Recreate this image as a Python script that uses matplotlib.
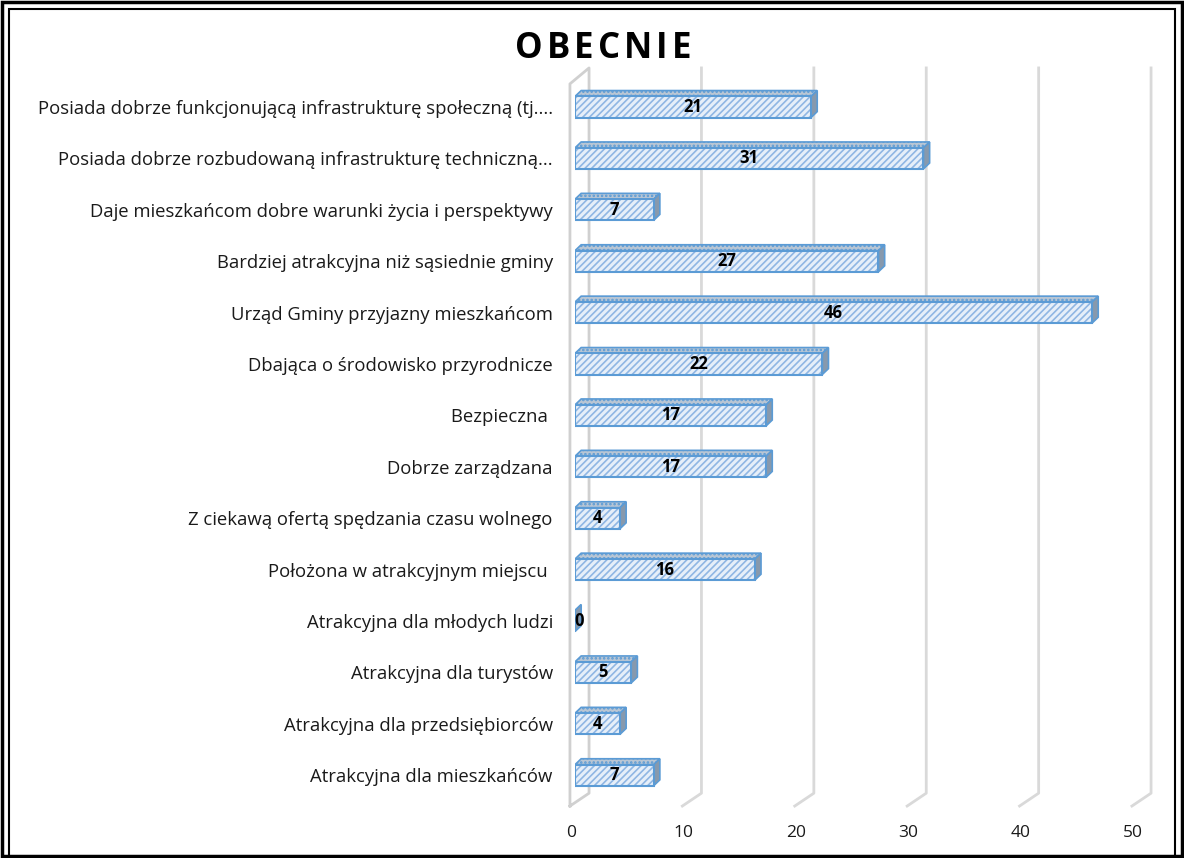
import matplotlib
matplotlib.use("Agg")
import matplotlib.pyplot as plt
from matplotlib.patches import Polygon, Rectangle
import matplotlib.transforms as mtransforms

categories = [
    "Posiada dobrze funkcjonującą infrastrukturę społeczną (tj....",
    "Posiada dobrze rozbudowaną infrastrukturę techniczną...",
    "Daje mieszkańcom dobre warunki życia i perspektywy",
    "Bardziej atrakcyjna niż sąsiednie gminy",
    "Urząd Gminy przyjazny mieszkańcom",
    "Dbająca o środowisko przyrodnicze",
    "Bezpieczna ",
    "Dobrze zarządzana",
    "Z ciekawą ofertą spędzania czasu wolnego",
    "Położona w atrakcyjnym miejscu ",
    "Atrakcyjna dla młodych ludzi",
    "Atrakcyjna dla turystów",
    "Atrakcyjna dla przedsiębiorców",
    "Atrakcyjna dla mieszkańców",
]
values = [21, 31, 7, 27, 46, 22, 17, 17, 4, 16, 0, 5, 4, 7]
xticks = [0, 10, 20, 30, 40, 50]
title = "OBECNIE"

plt.rcParams['font.family'] = ['Open Sans', 'DejaVu Sans']
plt.rcParams['hatch.linewidth'] = 1.2

fig = plt.figure(figsize=(11.84, 8.58), dpi=100)
W, H = 1184, 858
n = len(categories)
y_top, y_bot = -0.8, 13.6
step = 51.4
ax_top_px = 107 + y_top * step
ax_bot_px = 107 + y_bot * step
ax = fig.add_axes([575 / W, 1 - ax_bot_px / H, 562 / W, (ax_bot_px - ax_top_px) / H])

ypos = list(range(n))
bh = 0.41
dx = 0.55   # bar depth in x data units
dy = 0.115  # bar depth in y units
gback = 1.25   # back-wall offset
gfront = -0.45  # front floor offset
back_top, back_bot, front_bot = -0.76, 13.35, 13.6

grid_c = "#d9d9d9"
for t in xticks[1:]:
    ax.plot([t + gback, t + gback, t + gfront], [back_top, back_bot, front_bot],
            color=grid_c, lw=2, zorder=0, clip_on=False)
# zero wall
ax.plot([gfront, gfront, gback, gback, gfront], [front_bot, -0.45, back_top, back_bot, front_bot],
        color="#d0d0d0", lw=2, zorder=0, clip_on=False)

blue_edge = "#5b9bd5"
for y, v in zip(ypos, values):
    top = y - bh / 2
    bot = y + bh / 2
    ax.add_patch(Polygon([(0, top), (v, top), (v + dx, top - dy), (dx, top - dy)],
                         closed=True, facecolor="#b9c6d4", edgecolor=blue_edge,
                         lw=1.2, hatch="....", zorder=2))
    ax.add_patch(Polygon([(v, top), (v + dx, top - dy), (v + dx, bot - dy), (v, bot)],
                         closed=True, facecolor="#8799ad", edgecolor=blue_edge,
                         lw=1.2, zorder=2))

ax.barh(ypos, values, height=bh, color="#e6eff9", edgecolor="#8fb6e3",
        hatch="/////", lw=0, zorder=3)
ax.barh(ypos, values, height=bh, color="none", edgecolor=blue_edge, lw=1.5, zorder=4)

for y, v in zip(ypos, values):
    ax.text(v / 2 if v > 0 else 0.35, y, str(v), ha="center", va="center",
            fontsize=12, fontweight="bold", color="black", zorder=5)

ax.set_xlim(0, 50)
ax.set_ylim(y_bot, y_top)
ax.set_yticks(ypos)
ax.set_yticklabels(categories, fontsize=13.3, color="#1a1a1a")
ax.set_xticks(xticks)
ax.set_xticklabels([str(t) for t in xticks], fontsize=12.5, color="#1a1a1a")
ax.tick_params(axis="both", length=0)
ax.tick_params(axis="y", pad=16)
ax.tick_params(axis="x", pad=14)
off = mtransforms.ScaledTranslation(-4 / 100, 0, fig.dpi_scale_trans)
for lab in ax.get_xticklabels():
    lab.set_transform(lab.get_transform() + off)
for s in ax.spines.values():
    s.set_visible(False)

# letter-spaced title
renderer = fig.canvas.get_renderer()
letters = []
widths = []
for ch in title:
    t = fig.text(0, 0, ch, fontsize=25, fontweight="bold", color="black",
                 ha="left", va="center")
    widths.append(t.get_window_extent(renderer).width)
    letters.append(t)
spacing = 4
total = sum(widths) + spacing * (len(title) - 1)
x = 603 - total / 2
for t, w in zip(letters, widths):
    t.set_position((x / W, 1 - 49 / H))
    x += w + spacing

# double border
fig.patches.append(Rectangle((2 / W, 2 / H), 1 - 4 / W, 1 - 4 / H, transform=fig.transFigure,
                             fill=False, edgecolor="black", lw=2.5))
fig.patches.append(Rectangle((9 / W, 0 / H), 1 - 18 / W, 1 - 9 / H, transform=fig.transFigure,
                             fill=False, edgecolor="black", lw=1.5))

fig.savefig("out.png", dpi=100)
